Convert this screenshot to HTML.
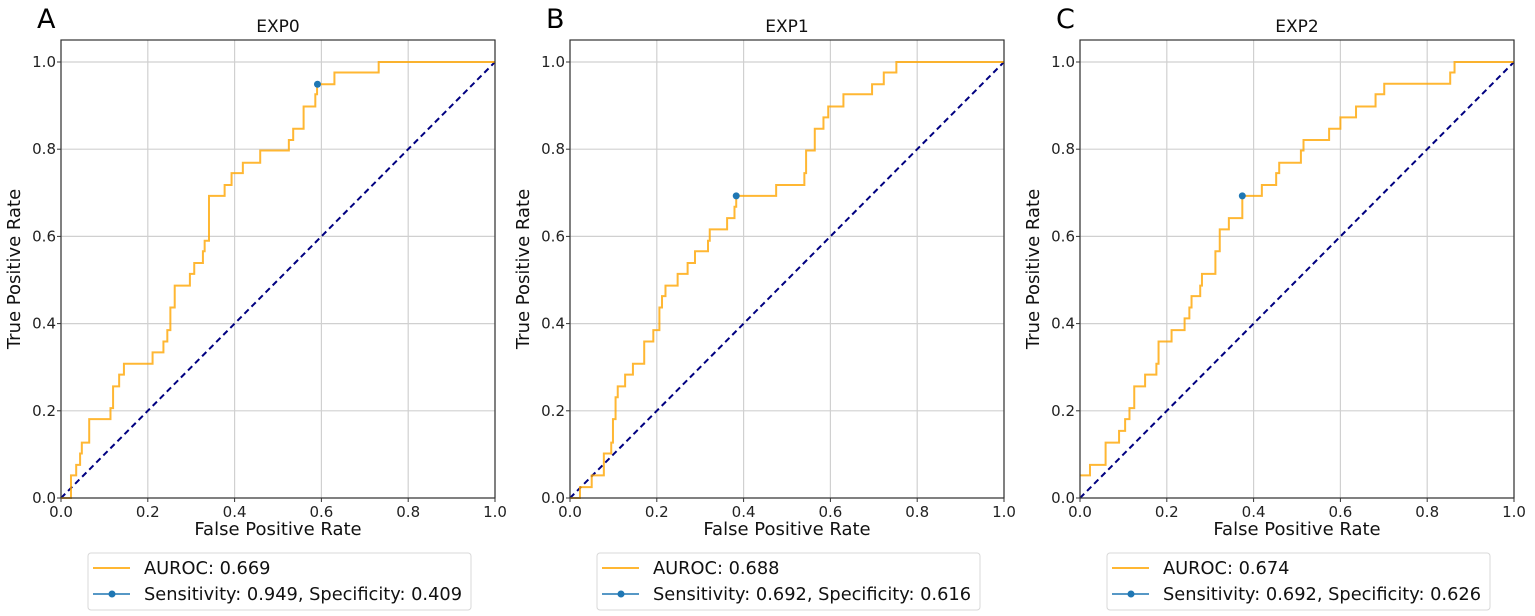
<!DOCTYPE html>
<html><head><meta charset="utf-8"><style>
body{margin:0;background:#fff;}
svg{display:block;font-family:"DejaVu Sans","Liberation Sans",sans-serif;}
</style></head><body>
<svg id="fig" width="1535" height="616" viewBox="0 0 1535 616" xmlns="http://www.w3.org/2000/svg"></svg>
<script>
const panelLetters = ["A","B","C"];
const panelTitles = ["EXP0","EXP1","EXP2"];
const aurocValues = ["0.669","0.688","0.674"];
const sensValues = ["0.949","0.692","0.692"];
const specValues = ["0.409","0.616","0.626"];
const tickLabels = ["0.0","0.2","0.4","0.6","0.8","1.0"];
const tickValues = [0,0.2,0.4,0.6,0.8,1.0];
const fprA = [0,0.023,0.035,0.044,0.048,0.065,0.114,0.120,0.134,0.145,0.211,0.236,0.245,0.252,0.262,0.297,0.307,0.327,0.331,0.341,0.377,0.393,0.419,0.459,0.525,0.535,0.559,0.586,0.590,0.630,0.732,1.0];
const tprA = [0,0.052,0.076,0.102,0.127,0.181,0.206,0.256,0.283,0.308,0.334,0.359,0.385,0.437,0.487,0.514,0.539,0.566,0.590,0.693,0.718,0.745,0.769,0.797,0.821,0.847,0.898,0.926,0.949,0.976,1.0,1.0];
const fprB = [0,0.023,0.050,0.078,0.095,0.099,0.105,0.110,0.127,0.145,0.171,0.192,0.206,0.212,0.220,0.248,0.271,0.288,0.318,0.322,0.362,0.379,0.383,0.475,0.540,0.544,0.564,0.584,0.595,0.630,0.696,0.723,0.752,1.0];
const tprB = [0,0.025,0.052,0.102,0.127,0.181,0.231,0.256,0.283,0.308,0.359,0.385,0.437,0.463,0.487,0.514,0.539,0.566,0.590,0.616,0.642,0.668,0.693,0.718,0.745,0.797,0.847,0.873,0.898,0.926,0.949,0.976,1.0,1.0];
const fprC = [0,0.023,0.059,0.090,0.104,0.114,0.125,0.150,0.176,0.181,0.211,0.241,0.252,0.257,0.277,0.281,0.312,0.322,0.343,0.374,0.419,0.452,0.459,0.509,0.515,0.574,0.600,0.636,0.681,0.701,0.853,0.863,1.0];
const tprC = [0.052,0.076,0.127,0.154,0.181,0.206,0.256,0.283,0.308,0.359,0.385,0.412,0.437,0.463,0.487,0.514,0.566,0.616,0.642,0.693,0.718,0.745,0.769,0.797,0.821,0.847,0.873,0.898,0.926,0.950,0.976,1.0,1.0];
const opFpr = [0.591,0.383,0.374];
const opTpr = [0.949,0.693,0.693];
const fprs = [fprA,fprB,fprC];
const tprs = [tprA,tprB,tprC];

const NS="http://www.w3.org/2000/svg";
const svg=document.getElementById('fig');
function mk(tag,attrs,parent,text){const e=document.createElementNS(NS,tag);for(const k in attrs)e.setAttribute(k,attrs[k]);if(text!==undefined)e.textContent=text;(parent||svg).appendChild(e);return e;}
const lefts=[61,570,1080];
const W=434, axTop=40, axBottom=498, perY=436;
for(let p=0;p<3;p++){
  const L=lefts[p];
  const sx=v=>L+v*W;
  const sy=v=>axBottom-v*perY;
  const g=mk('g',{});
  
  
  tickValues.forEach((t,i)=>{
    const gx=mk('line',{x1:sx(t),x2:sx(t),y1:axTop,y2:axBottom,stroke:'#d0d0d0','stroke-width':1.2},g);
    
    
    const gy=mk('line',{x1:L,x2:L+W,y1:sy(t),y2:sy(t),stroke:'#d0d0d0','stroke-width':1.2},g);
    
    
    const xt=mk('text',{x:sx(t),y:axBottom+19,'font-size':15,'text-anchor':'middle',fill:'#222'},g,tickLabels[i]);
    
    
    const yt=mk('text',{x:L-5,y:sy(t)+5,'font-size':15,'text-anchor':'end',fill:'#222'},g,tickLabels[i]);
    
    
    mk('line',{x1:sx(t),x2:sx(t),y1:axBottom,y2:axBottom+4,stroke:'#333'},g);
    mk('line',{x1:L-4,x2:L,y1:sy(t),y2:sy(t),stroke:'#333'},g);
  });
  const d=mk('line',{x1:sx(0),y1:sy(0),x2:sx(1),y2:sy(1),stroke:'#000080','stroke-width':2,'stroke-dasharray':'6,4'},g);
  
  
  const fx=fprs[p], ty=tprs[p];
  let dstr='M'+sx(fx[0])+','+sy(ty[0]);
  for(let i=1;i<fx.length;i++){dstr+=' L'+sx(fx[i])+','+sy(ty[i-1])+' L'+sx(fx[i])+','+sy(ty[i]);}
  const c=mk('path',{d:dstr,fill:'none',stroke:'#FFA500','stroke-width':2,'stroke-opacity':0.8},g);
  
  
  const pt=mk('circle',{cx:sx(opFpr[p]),cy:sy(opTpr[p]),r:3.5,fill:'#1f77b4'},g);
  
  
  const fr=mk('rect',{x:L,y:axTop,width:W,height:axBottom-axTop,fill:'none',stroke:'#333','stroke-width':1.2},g);
  
  
  const ti=mk('text',{x:L+W/2,y:axTop-8,'font-size':17,'text-anchor':'middle',fill:'#111'},g,panelTitles[p]);
  
  
  const le=mk('text',{x:L-24,y:28,'font-size':27,fill:'#000'},g,panelLetters[p]);
  
  
  const xl=mk('text',{x:L+W/2,y:535,'font-size':18,'text-anchor':'middle',fill:'#111'},g,'False Positive Rate');
  
  
  const yl=mk('text',{x:0,y:0,'font-size':18,'text-anchor':'middle',fill:'#111',transform:'translate('+(L-41)+','+((axTop+axBottom)/2)+') rotate(-90)'},g,'True Positive Rate');
  
  
  const lg=mk('g',{},g);
  
  
  mk('rect',{x:L+27,y:553,width:383,height:57,rx:3,fill:'#fff',stroke:'#d8d8d8','stroke-width':1},lg);
  mk('line',{x1:L+32,x2:L+69,y1:568,y2:568,stroke:'#FFA500','stroke-width':2,'stroke-opacity':0.8},lg);
  const t1=mk('text',{x:L+83,y:574,'font-size':17.8,fill:'#111'},lg,'AUROC: '+aurocValues[p]);
  
  
  mk('line',{x1:L+32,x2:L+69,y1:594,y2:594,stroke:'#1f77b4','stroke-width':1.5},lg);
  mk('circle',{cx:L+51,cy:594,r:3.5,fill:'#1f77b4'},lg);
  const t2=mk('text',{x:L+83,y:600,'font-size':17.8,fill:'#111'},lg,'Sensitivity: '+sensValues[p]+', Specificity: '+specValues[p]);
  
  
}
</script>
</body></html>
